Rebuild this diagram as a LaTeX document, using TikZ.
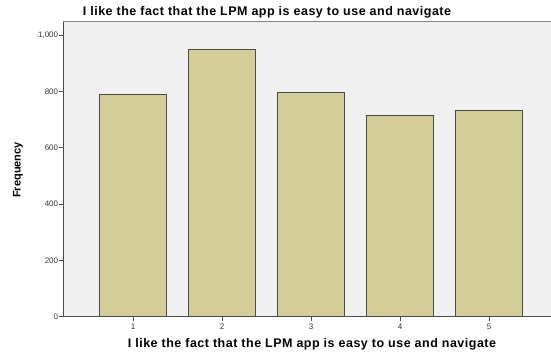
\documentclass[tikz,border=0pt]{standalone}
\usepackage{fontspec}
\setmainfont{Liberation Sans}
\newfontfamily\labelfont[LetterSpace=4]{Liberation Sans}
\definecolor{plotbg}{RGB}{240,240,240}
\definecolor{barfill}{RGB}{211,206,152}
\definecolor{edgegray}{RGB}{75,75,75}
\definecolor{framegray}{RGB}{130,130,130}
\begin{document}
\begin{tikzpicture}[x=1pt,y=1pt,
  bar/.style={draw=edgegray,fill=barfill,line width=0.9pt},
  ticklabel/.style={font=\fontsize{8}{9}\selectfont,text=black!80,inner sep=1pt},
  axislabel/.style={font=\labelfont\bfseries\fontsize{12.5}{14}\selectfont,inner sep=0pt}]
\useasboundingbox (0,0) rectangle (551,356);
% plot area
\fill[plotbg] (63.3,39.3) rectangle (551,334.3);
\draw[framegray,line width=0.8pt] (63.3,334.3) -- (551,334.3);
% bars
\foreach \i/\v in {1/790,2/950,3/797,4/716,5/731}
  \draw[bar] ({133-33.5+89*(\i-1)},39.3) rectangle ({133+33.5+89*(\i-1)},{39.3+0.2815*\v});
% axes
\coordinate (origin) at (63.3,39.3);
\coordinate (ytop) at (63.3,334.3);
\coordinate (xend) at (551,39.3);
\draw[edgegray,line width=0.9pt] (ytop) -- (origin) -- (xend);
% y ticks
\foreach \v/\t in {0/0,200/200,400/400,600/600,800/800,1000/{1,000}}{
  \draw[edgegray,line width=0.7pt] (59.3,{39.3+0.2815*\v}) -- (63.3,{39.3+0.2815*\v});
  \node[ticklabel,anchor=east] (y\v) at (59.3,{39.3+0.2815*\v}) {\t};
}
% x ticks
\foreach \i in {1,...,5}{
  \draw[edgegray,line width=0.7pt] ({133+89*(\i-1)},39.3) -- ({133+89*(\i-1)},35.3);
  \node[ticklabel] (x\i) at ({133+89*(\i-1)},29) {\i};
}
% labels
\node[axislabel] (title) at (267,344) {I like the fact that the LPM app is easy to use and navigate};
\node[axislabel] (xlabel) at (312,12) {I like the fact that the LPM app is easy to use and navigate};
\node[axislabel,rotate=90,font=\bfseries\fontsize{11}{12}\selectfont] (ylabel) at (18,186) {Frequency};
\end{tikzpicture}
\end{document}
